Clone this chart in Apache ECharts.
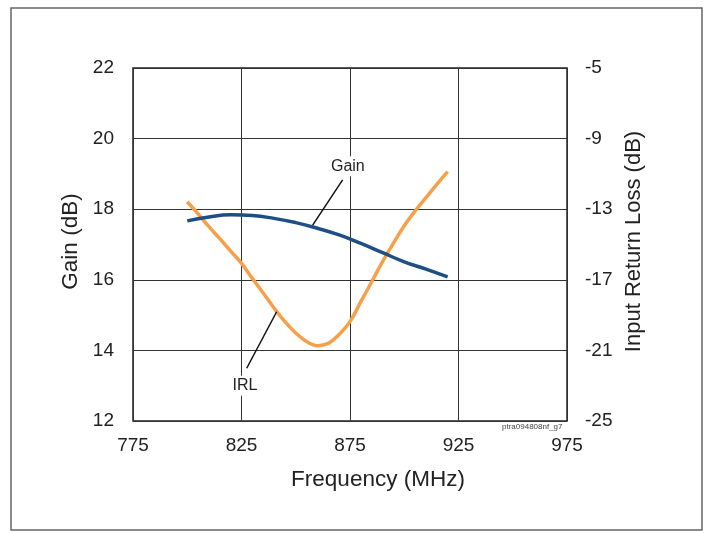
<!DOCTYPE html>
<html><head><meta charset="utf-8">
<script src="https://cdn.jsdelivr.net/npm/echarts@6/dist/echarts.min.js"></script>
<style>html,body{margin:0;padding:0;background:#fff}#c{width:704px;height:533px}</style>
</head><body><div id="c"></div>
<script>
const gainFreq = [800, 810, 820, 830, 840, 850, 860, 870, 880, 890, 900, 910, 920];
const gain = [17.67, 17.78, 17.84, 17.82, 17.74, 17.62, 17.46, 17.27, 17.03, 16.77, 16.51, 16.30, 16.08];
const irlFreq = [800, 805, 810, 815, 820, 825, 830, 835, 840, 845, 850, 855, 860, 865, 870, 875, 880, 885, 890, 895, 900, 905, 910, 915, 920];
const irl = [-12.58, -13.27, -13.99, -14.67, -15.37, -16.07, -16.92, -17.75, -18.60, -19.37, -20.01, -20.50, -20.73, -20.60, -20.10, -19.37, -18.24, -17.11, -15.97, -14.93, -13.94, -13.10, -12.35, -11.59, -10.87];
const xTicks = [775, 825, 875, 925, 975];
const gainTicks = [12, 14, 16, 18, 20, 22];
const irlTicks = [-25, -21, -17, -13, -9, -5];
const gainLabel = {text: 'Gain', at: [874, 19.22], leader: [[871.6, 18.83], [857.8, 17.55]]};
const irlLabel = {text: 'IRL', at: [826.6, -23.0], leader: [[827.4, -22.01], [841.2, -18.81]]};

const font = '"Liberation Sans", Arial, sans-serif';
const chart = echarts.init(document.getElementById('c'), null, {renderer: 'canvas'});
const leader = (pts) => ({
  symbol: 'none', silent: true, animation: false,
  lineStyle: {color: '#111', width: 1.5, type: 'solid'},
  label: {show: false},
  data: [[{coord: pts[0]}, {coord: pts[1]}]]
});
const tag = (lab) => ({
  symbol: 'rect', symbolSize: 1, silent: true, animation: false,
  itemStyle: {color: 'rgba(0,0,0,0)'},
  label: {show: true, position: 'inside', formatter: lab.text, color: '#222', fontSize: 16,
    fontFamily: font, backgroundColor: '#fff', padding: [2, 2]},
  data: [{coord: lab.at}]
});
chart.setOption({
  animation: false,
  backgroundColor: '#fff',
  graphic: [
    {type: 'rect', shape: {x: 11, y: 8, width: 691, height: 522}, style: {fill: 'none', stroke: '#666', lineWidth: 1.5}, z: -10},
    {type: 'text', left: 502, top: 423, style: {text: 'ptra094808nf_g7', fontSize: 8, fill: '#444', fontFamily: font}}
  ],
  grid: {left: 133, top: 68, width: 434, height: 353, show: true, borderColor: '#222', borderWidth: 1.5, backgroundColor: 'transparent'},
  xAxis: {
    type: 'value', min: xTicks[0], max: xTicks[xTicks.length - 1], interval: 50,
    name: 'Frequency (MHz)', nameLocation: 'middle', nameGap: 47,
    nameTextStyle: {fontSize: 22.5, color: '#222', fontFamily: font, padding: [0, 0, 0, 56]},
    axisLine: {show: false}, axisTick: {show: false},
    axisLabel: {fontSize: 19, color: '#222', fontFamily: font, margin: 15},
    splitLine: {show: true, lineStyle: {color: '#333', width: 1}}
  },
  yAxis: [{
    type: 'value', min: gainTicks[0], max: gainTicks[gainTicks.length - 1], interval: 2,
    name: 'Gain (dB)', nameLocation: 'middle', nameGap: 50,
    nameTextStyle: {fontSize: 22.5, color: '#222', fontFamily: font, padding: [0, 0, 0, 6]},
    axisLine: {show: false}, axisTick: {show: false},
    axisLabel: {fontSize: 19, color: '#222', fontFamily: font, margin: 19},
    splitLine: {show: true, lineStyle: {color: '#333', width: 1}}
  }, {
    type: 'value', position: 'right', min: irlTicks[0], max: irlTicks[irlTicks.length - 1], interval: 4,
    name: 'Input Return Loss (dB)', nameLocation: 'middle', nameGap: 55,
    nameTextStyle: {fontSize: 22, color: '#222', fontFamily: font, padding: [0, 0, 0, 6]},
    axisLine: {show: false}, axisTick: {show: false},
    axisLabel: {fontSize: 19, color: '#222', fontFamily: font, margin: 18},
    splitLine: {show: false}
  }],
  series: [{
    name: 'Gain', type: 'line', smooth: true, symbol: 'none', yAxisIndex: 0,
    data: gainFreq.map((f, i) => [f, gain[i]]),
    lineStyle: {color: '#1d4f85', width: 3.5}, z: 3,
    markLine: leader(gainLabel.leader), markPoint: tag(gainLabel)
  }, {
    name: 'IRL', type: 'line', smooth: 0.4, symbol: 'none', yAxisIndex: 1,
    data: irlFreq.map((f, i) => [f, irl[i]]),
    lineStyle: {color: '#f7a04a', width: 3.5}, z: 2,
    markLine: leader(irlLabel.leader), markPoint: tag(irlLabel)
  }]
});
</script></body></html>
